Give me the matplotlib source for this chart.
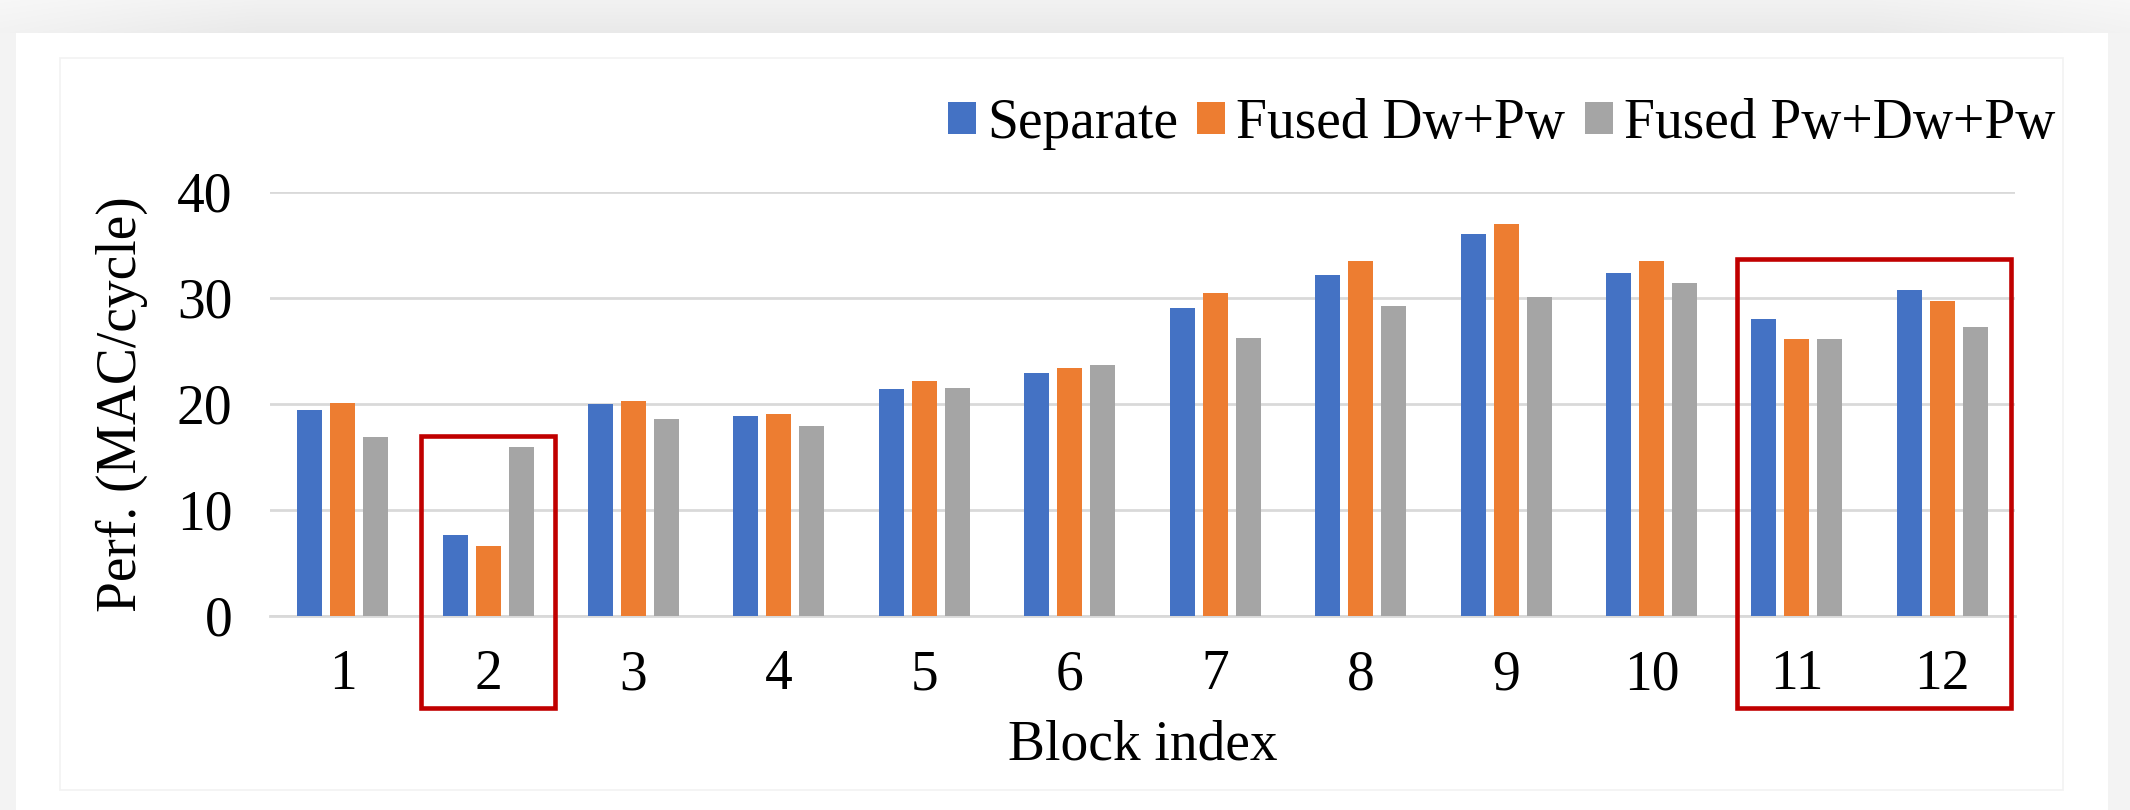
import numpy as np
import matplotlib.pyplot as plt
from matplotlib.patches import Rectangle

plt.rcParams['font.family'] = ['Liberation Serif', 'DejaVu Serif']

# Performance per block (MAC/cycle)
blocks = ['1', '2', '3', '4', '5', '6', '7', '8', '9', '10', '11', '12']
separate = [19.4, 7.6, 20.0, 18.9, 21.4, 22.9, 29.1, 32.2, 36.0, 32.4, 28.0, 30.8]
fused_dw_pw = [20.1, 6.6, 20.3, 19.1, 22.2, 23.4, 30.5, 33.5, 37.0, 33.5, 26.1, 29.7]
fused_pw_dw_pw = [16.9, 15.9, 18.6, 17.9, 21.5, 23.7, 26.2, 29.2, 30.1, 31.4, 26.1, 27.3]
series_names = ['Separate', 'Fused Dw+Pw', 'Fused Pw+Dw+Pw']
colors = ['#4472C4', '#ED7D31', '#A5A5A5']

FS = 40
W, H = 2130, 810
fig = plt.figure(figsize=(W / 100, H / 100), dpi=100, facecolor='#f3f3f3')

# soft grey band along the top edge
band = fig.add_axes([0, 1 - 33 / H, 1, 33 / H], zorder=-3)
xs = np.linspace(0, 1, 400)
row = 0.95 - 0.035 * np.clip(np.minimum(xs, 1 - xs) / 0.12, 0, 1)
col = np.linspace(0.6, 1.0, 30)[:, None]
grad = 1 - (1 - row[None, :]) * col
band.imshow(np.dstack([grad] * 3), aspect='auto', extent=[0, 1, 0, 1])
band.axis('off')

# white card and the faint chart-area frame
fig.patches.append(Rectangle((16 / W, 0), (2108 - 16) / W, 1 - 33 / H,
                             transform=fig.transFigure, facecolor='white',
                             edgecolor='none', zorder=-2))
fig.patches.append(Rectangle((60 / W, 1 - 790 / H), (2063 - 60) / W, (790 - 58) / H,
                             transform=fig.transFigure, facecolor='none',
                             edgecolor='#f2f2f2', lw=1.2, zorder=-1))

ax = fig.add_axes([270 / W, 1 - 616 / H, (2015 - 270) / W, (616 - 192) / H])
ax.set_facecolor('none')

x = np.arange(len(blocks))
step = 0.227
width = 0.172
for i, (vals, name, c) in enumerate(zip([separate, fused_dw_pw, fused_pw_dw_pw],
                                          series_names, colors)):
    ax.bar(x + (i - 1) * step, vals, width, color=c, label=name, zorder=3)

ax.set_xlim(-0.5, len(blocks) - 0.5)
ax.set_ylim(0, 40)
ax.set_yticks([0, 10, 20, 30, 40])
ax.set_xticks(x)
ax.set_xticklabels(blocks)
ax.yaxis.grid(True, color='#d9d9d9', lw=2, zorder=0)
ax.set_axisbelow(True)
for s in ['top', 'right', 'left']:
    ax.spines[s].set_visible(False)
ax.spines['bottom'].set_color('#d9d9d9')
ax.spines['bottom'].set_linewidth(2)
ax.tick_params(axis='both', length=0, labelsize=FS)
ax.tick_params(axis='y', pad=27)
ax.tick_params(axis='x', pad=24)

ax.set_ylabel('Perf. (MAC/cycle)', fontsize=FS, labelpad=21)
ax.set_xlabel('Block index', fontsize=FS, labelpad=13)

fig.legend(loc='center right', bbox_to_anchor=(2055 / W, 1 - 124 / H),
           ncol=3, frameon=False, fontsize=FS, handlelength=0.5,
           handleheight=0.5, handletextpad=0.2, columnspacing=0.35,
           borderaxespad=0, borderpad=0)

# highlight boxes around blocks 2 and 11-12
box_kw = dict(facecolor='none', edgecolor='#C00000', lw=3.3, clip_on=False, zorder=5)
ax.add_patch(Rectangle((1 - 0.46, -8.7), 0.92, 17.0 + 8.7, **box_kw))
ax.add_patch(Rectangle((9.59, -8.7), 11.47 - 9.59, 33.7 + 8.7, **box_kw))

fig.savefig('out.png', dpi=100, facecolor=fig.get_facecolor())
